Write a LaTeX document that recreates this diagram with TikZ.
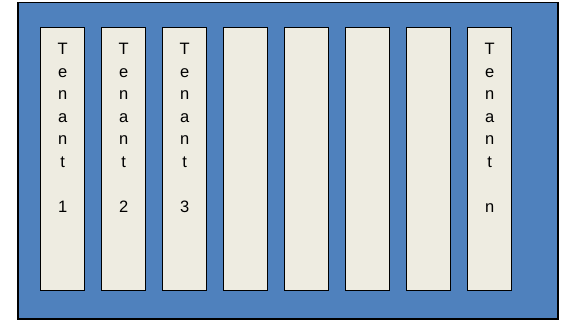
\documentclass[tikz,border=0pt]{standalone}
\usepackage{fontspec}
\setmainfont{Liberation Sans}
\usetikzlibrary{positioning}
\definecolor{hostblue}{HTML}{4F81BD}
\definecolor{slotfill}{HTML}{EEECE1}
\tikzset{
  host/.style={draw, line width=1.5pt, fill=hostblue, minimum width=540pt, minimum height=316pt, inner sep=0pt},
  slot/.style={draw, line width=1.2pt, fill=slotfill, anchor=north west, minimum width=44pt, minimum height=263pt, inner sep=0pt},
  tname/.style={align=center, inner sep=0pt, anchor=north, font=\fontsize{16.5}{22.5}\selectfont}
}

\begin{document}
\begin{tikzpicture}[x=1pt, y=-1pt]
  \useasboundingbox (0,0) rectangle (564,321);
  \node[host] (box) at (287.75,160.75) {};
  % tenant columns
  \foreach \i in {1,...,8}
    \node[slot] (col\i) at ({40+61*(\i-1)},27) {};
  \foreach \i/\t in {1/1,2/2,3/3,8/n}
    \node[tname, below=16pt of col\i.north] (lab\i) {T\\e\\n\\a\\n\\t\\\mbox{}\\\t};
\end{tikzpicture}
\end{document}
